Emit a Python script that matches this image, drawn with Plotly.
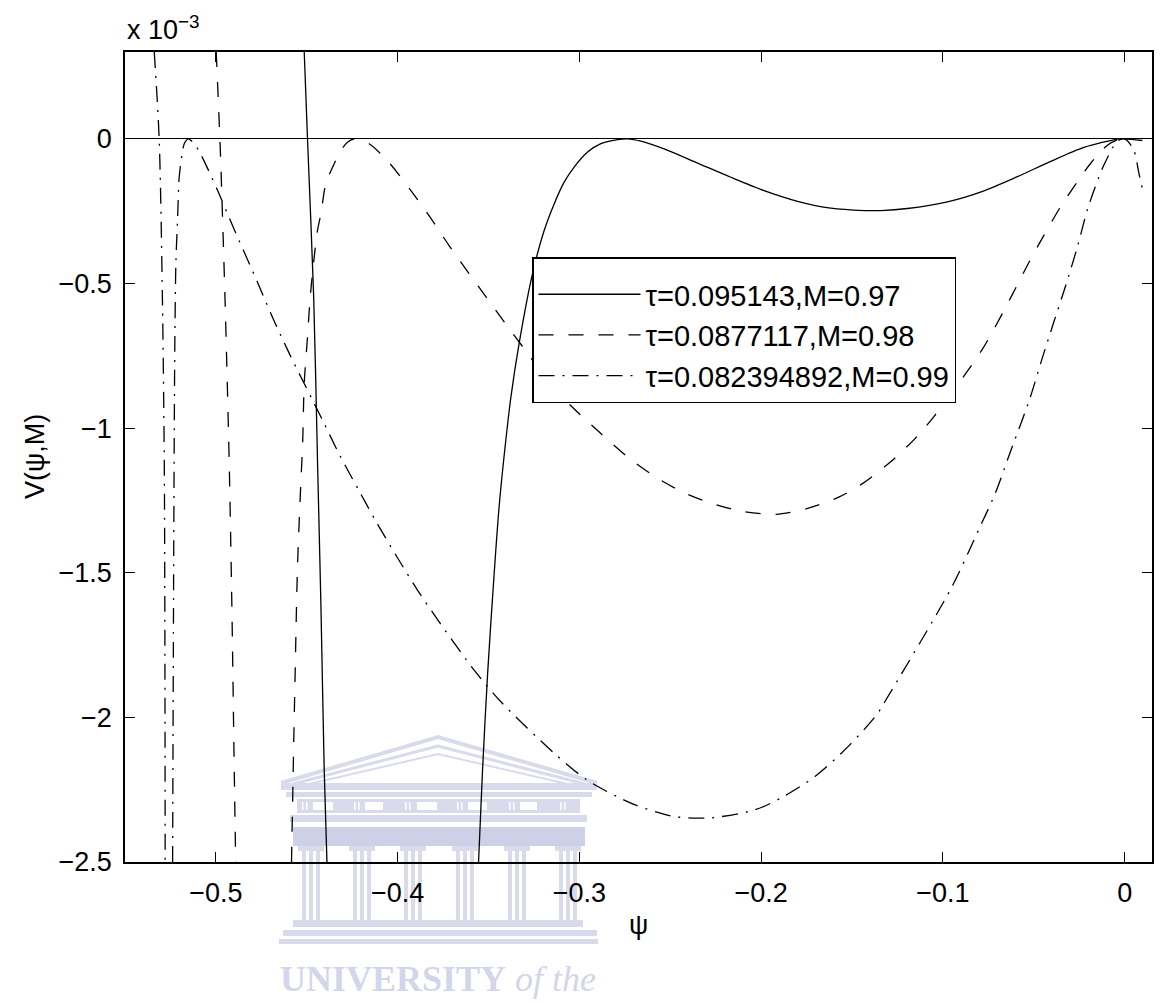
import plotly.graph_objects as go

# Sagdeev potential V(psi, M) for three Mach numbers; V values are in units of 1e-3.
# None separates the branches that run off the bottom of the axes.
psi_m097 = [-0.4514, -0.4496, -0.4462, -0.4441, -0.4422, -0.4404, -0.4389, None,
            -0.3555, -0.3533, -0.3505, -0.3469, -0.3442, -0.3405, -0.3377, -0.3332,
            -0.3258, -0.3194, -0.3139, -0.3084, -0.3029, -0.2955, -0.2882, -0.2790,
            -0.2735, -0.2662, -0.2534, -0.2350, -0.2167, -0.1984, -0.1800, -0.1617,
            -0.1434, -0.1342, -0.1196, -0.0975, -0.0774, -0.0590, -0.0407, -0.0224,
            -0.0040, 0.0, 0.0097]
v_m097 = [0.30, 0.00, -0.547, -1.111, -1.618, -2.182, -2.50, None,
          -2.50, -2.182, -1.848, -1.503, -1.273, -1.042, -0.893, -0.708,
          -0.466, -0.317, -0.225, -0.150, -0.098, -0.046, -0.017, -0.003,
          0.0, -0.008, -0.035, -0.084, -0.133, -0.179, -0.216, -0.240,
          -0.248, -0.248, -0.241, -0.218, -0.180, -0.131, -0.078, -0.030,
          -0.001, 0.0, -0.006]

psi_m098 = [-0.4998, -0.4978, -0.4973, -0.4950, -0.4927, -0.4912, -0.4899, -0.4891, None,
            -0.4584, -0.4573, -0.4564, -0.4551, -0.4532, -0.4523, -0.4514, -0.4496,
            -0.4481, -0.4459, -0.4441, -0.4422, -0.4395, -0.4349, -0.4312, -0.4276,
            -0.4239, -0.4157, -0.4048, -0.3927, -0.3817, -0.3717, -0.3607, -0.3520,
            -0.3414, -0.3300, -0.3157, -0.3020, -0.2882, -0.2735, -0.2589, -0.2433,
            -0.2294, -0.2112, -0.1920, -0.1745, -0.1571, -0.1443, -0.1296, -0.1159,
            -0.1052, -0.0783, -0.0618, -0.0526, -0.0444, -0.0352, -0.0260, -0.0184,
            -0.0095, -0.0040, 0.0]
v_m098 = [0.30, 0.00, -0.086, -0.547, -1.111, -1.618, -2.182, -2.50, None,
          -2.50, -2.130, -1.847, -1.480, -1.180, -1.059, -0.846, -0.685,
          -0.547, -0.409, -0.317, -0.259, -0.155, -0.086, -0.040, -0.012,
          0.0, -0.017, -0.082, -0.179, -0.275, -0.369, -0.466, -0.541,
          -0.633, -0.729, -0.852, -0.939, -1.019, -1.100, -1.166, -1.221,
          -1.256, -1.287, -1.298, -1.278, -1.238, -1.192, -1.121, -1.040,
          -0.962, -0.727, -0.538, -0.426, -0.333, -0.234, -0.148, -0.082,
          -0.022, -0.004, 0.0]

psi_m099 = [-0.5339, -0.5312, -0.5294, -0.5284, -0.5281, -0.5279, None,
            -0.5238, -0.5233, -0.5229, -0.5226, -0.5220, -0.5211, -0.5202, -0.5187,
            -0.5174, -0.5152, -0.5119, -0.5083, -0.4991, -0.4905, -0.4774, -0.4688,
            -0.4597, -0.4413, -0.4316, -0.4212, -0.4120, -0.4006, -0.3891, -0.3766,
            -0.3579, -0.3432, -0.3139, -0.2957, -0.2704, -0.2495, -0.2381, -0.2268,
            -0.2036, -0.1889, -0.1701, -0.1514, -0.1362, -0.1320, -0.0957, -0.0801,
            -0.0710, -0.0636, -0.0523, -0.0458, -0.0392, -0.0325, -0.0260, -0.0202,
            -0.0114, -0.0040, 0.0, 0.0048, 0.0079, 0.0098]
v_m099 = [0.30, 0.00, -0.559, -1.111, -1.595, -2.50, None,
          -2.50, -1.595, -1.018, -0.720, -0.427, -0.282, -0.134, -0.058,
          -0.017, 0.0, -0.017, -0.054, -0.178, -0.305, -0.492, -0.618,
          -0.741, -0.973, -1.097, -1.217, -1.322, -1.443, -1.560, -1.675,
          -1.837, -1.946, -2.124, -2.217, -2.300, -2.341, -2.348, -2.347,
          -2.320, -2.278, -2.203, -2.096, -1.989, -1.946, -1.556, -1.348,
          -1.222, -1.094, -0.900, -0.767, -0.637, -0.508, -0.373, -0.238,
          -0.090, -0.008, 0.0, -0.036, -0.122, -0.175]

series_labels = ["τ=0.095143,M=0.97", "τ=0.0877117,M=0.98", "τ=0.082394892,M=0.99"]

x_tickvals = [-0.5, -0.4, -0.3, -0.2, -0.1, 0.0]
x_ticktext = ["−0.5", "−0.4", "−0.3", "−0.2", "−0.1", "0"]
y_tickvals = [0.0, -0.5, -1.0, -1.5, -2.0, -2.5]
y_ticktext = ["0", "−0.5", "−1", "−1.5", "−2", "−2.5"]

W, H = 1165, 1003
ML, MR, MT, MB = 125, 13, 52, 141
PW, PH = W - ML - MR, H - MT - MB

FONT = "Liberation Sans, Arial, Helvetica, sans-serif"


def pxx(p):
    return (p - ML) / PW


def pxy(p):
    return (H - MB - p) / PH


fig = go.Figure()

line_styles = [
    dict(color="black", width=1.3, dash="solid"),
    dict(color="black", width=1.3, dash="15px,15px"),
    dict(color="black", width=1.3, dash="16px,8px,2px,8px"),
]
for i, (xs, ys) in enumerate([(psi_m097, v_m097), (psi_m098, v_m098), (psi_m099, v_m099)]):
    fig.add_trace(go.Scatter(
        x=xs, y=ys, mode="lines", name=series_labels[i],
        legendgroup=f"g{i}",
        line=dict(shape="spline", smoothing=0.8, **line_styles[i]),
        connectgaps=False, hoverinfo="skip",
    ))

# University crest in the lower part of the page
WM = "#D9DBEC"
WM_DARK = "#CDD0E7"
WM_TEXT = "#D3D6EA"
shapes = []


def rect(x0, y0, x1, y1, color):
    shapes.append(dict(type="rect", xref="paper", yref="paper", layer="below",
                       x0=pxx(x0), x1=pxx(x1), y0=pxy(y0), y1=pxy(y1),
                       fillcolor=color, line=dict(width=0)))


def poly(points, width, color):
    d = "M " + " L ".join(f"{pxx(a):.5f},{pxy(b):.5f}" for a, b in points)
    shapes.append(dict(type="path", xref="paper", yref="paper", layer="below",
                       path=d, line=dict(color=color, width=width)))


poly([(281, 783), (438, 737), (597, 783)], 4, WM)
poly([(293, 784), (438, 746), (585, 784)], 3, WM)
poly([(305, 785), (438, 754), (572, 785)], 2, WM)
rect(281, 783, 597, 790, WM)
rect(286, 792, 592, 797, WM)
rect(297, 799, 580, 813, WM)
for a, b in [(313, 333), (365, 383), (417, 437), (468, 487), (520, 537)]:
    rect(a, 802, b, 810, "white")
for a in [302, 354, 405, 457, 509, 560]:
    rect(a, 802, a + 1.5, 810, "white")
    rect(a + 4, 802, a + 5.5, 810, "white")
rect(290, 815, 587, 822, WM)
rect(293, 827, 585, 846, WM_DARK)
for c in [301, 352, 403, 455, 507, 558]:
    rect(c - 3, 846, c + 23, 851, WM)
    for off in (1, 8, 15):
        rect(c + off, 851, c + off + 4, 920, WM)
rect(293, 920, 583, 927, WM)
rect(283, 930, 597, 936, WM)
rect(279, 939, 598, 944, WM)

annotations = [
    dict(text="<b>UNIVERSITY</b> <i>of the</i>", x=pxx(438), y=pxy(979), xref="paper", yref="paper",
         xanchor="center", yanchor="middle", showarrow=False,
         font=dict(family="Liberation Serif, Times New Roman, serif", size=36, color=WM_TEXT)),
    dict(text="x 10<sup>−3</sup>", x=0, y=pxy(47), xref="paper", yref="paper",
         xanchor="left", yanchor="bottom", showarrow=False,
         font=dict(family=FONT, size=27, color="black")),
    dict(text="ψ", x=0.5, y=pxy(925), xref="paper", yref="paper",
         xanchor="center", yanchor="middle", showarrow=False,
         font=dict(family=FONT, size=27, color="black")),
    dict(text="V(ψ,M)", x=pxx(35), y=0.5, xref="paper", yref="paper",
         xanchor="center", yanchor="middle", textangle=-90, showarrow=False,
         font=dict(family=FONT, size=27, color="black")),
]

axis_common = dict(
    showgrid=False, ticks="inside", ticklen=10, tickwidth=1.3, tickcolor="black",
    showline=True, linecolor="black", linewidth=1.5, mirror="ticks",
    tickfont=dict(family=FONT, size=27, color="black"),
)

fig.update_layout(
    width=W, height=H,
    margin=dict(l=ML, r=MR, t=MT, b=MB, autoexpand=False),
    paper_bgcolor="white", plot_bgcolor="white",
    font=dict(family=FONT, size=27, color="black"),
    xaxis=dict(range=[-0.55, 0.015], tickvals=x_tickvals, ticktext=x_ticktext,
               zeroline=False, ticklabelstandoff=6, **axis_common),
    yaxis=dict(range=[-2.5, 0.3], tickvals=y_tickvals, ticktext=y_ticktext,
               zeroline=True, zerolinecolor="black", zerolinewidth=1.2,
               ticklabelstandoff=6, **axis_common),
    legend=dict(x=pxx(532), y=pxy(257), xanchor="left", yanchor="top",
                bgcolor="white", bordercolor="black", borderwidth=1.5,
                font=dict(family=FONT, size=29, color="black"),
                title=dict(text=" ", font=dict(size=8)),
                itemwidth=102, tracegroupgap=11, traceorder="normal"),
    shapes=shapes,
    annotations=annotations,
    showlegend=True,
)

fig.write_html("out.html")
